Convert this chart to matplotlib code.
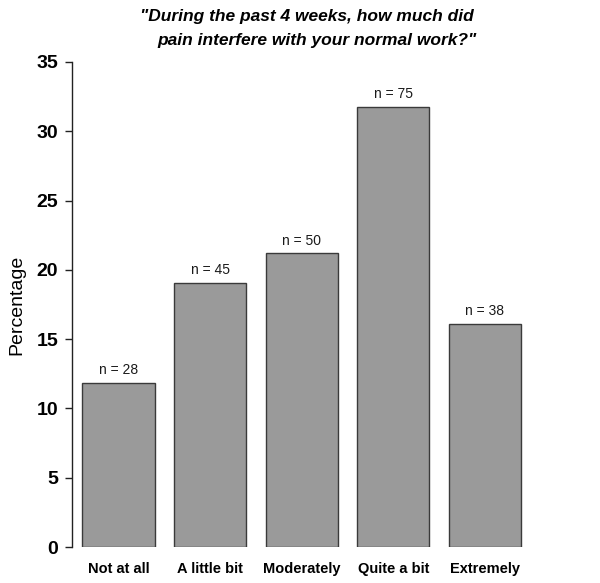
import matplotlib
matplotlib.use("Agg")
import matplotlib.pyplot as plt

# Response categories and counts (n)
categories = ["Not at all", "A little bit", "Moderately", "Quite a bit", "Extremely"]
counts = [28, 45, 50, 75, 38]
total = sum(counts)
percentages = [c / total * 100 for c in counts]
yticks = [0, 5, 10, 15, 20, 25, 30, 35]

plt.rcParams["font.family"] = ["Liberation Sans", "DejaVu Sans"]

fig = plt.figure(figsize=(6.0, 5.83), dpi=100)
ax = fig.add_axes([0.12, 0.0617, 0.88, 0.832])

x = list(range(len(categories)))
ax.bar(x, percentages, width=0.79, color="#9a9a9a", edgecolor="#3a3a3a", linewidth=1.0)

for xi, p, n in zip(x, percentages, counts):
    ax.annotate(f"n = {n}", (xi, p), xytext=(0, 4), textcoords="offset points",
                ha="center", va="bottom", fontsize=10, color="#1a1a1a")

ax.set_xlim(-0.508, 5.257)
ax.set_ylim(0, 35)
ax.set_yticks(yticks)
ax.set_yticklabels([str(t) for t in yticks], fontsize=14, fontweight="bold")
ax.set_xticks(x)
ax.set_xticklabels(categories, fontsize=10.5, fontweight="bold")
ax.tick_params(axis="x", length=0, pad=11)
ax.tick_params(axis="y", length=5, width=1, pad=5, color="#222222")

for s in ["top", "right", "bottom"]:
    ax.spines[s].set_visible(False)
ax.spines["left"].set_bounds(0, 35)
ax.spines["left"].set_linewidth(1)
ax.spines["left"].set_color("#222222")

ax.set_ylabel("Percentage", fontsize=14, labelpad=8)

fig.text(140 / 600, 1 - 17 / 583, "\"During the past 4 weeks, how much did",
         fontsize=12.5, fontweight="bold", style="italic", ha="left", va="center")
fig.text(157 / 600, 1 - 40 / 583, "pain interfere with your normal work?\"",
         fontsize=12.5, fontweight="bold", style="italic", ha="left", va="center")

fig.savefig("out.png", dpi=100)
